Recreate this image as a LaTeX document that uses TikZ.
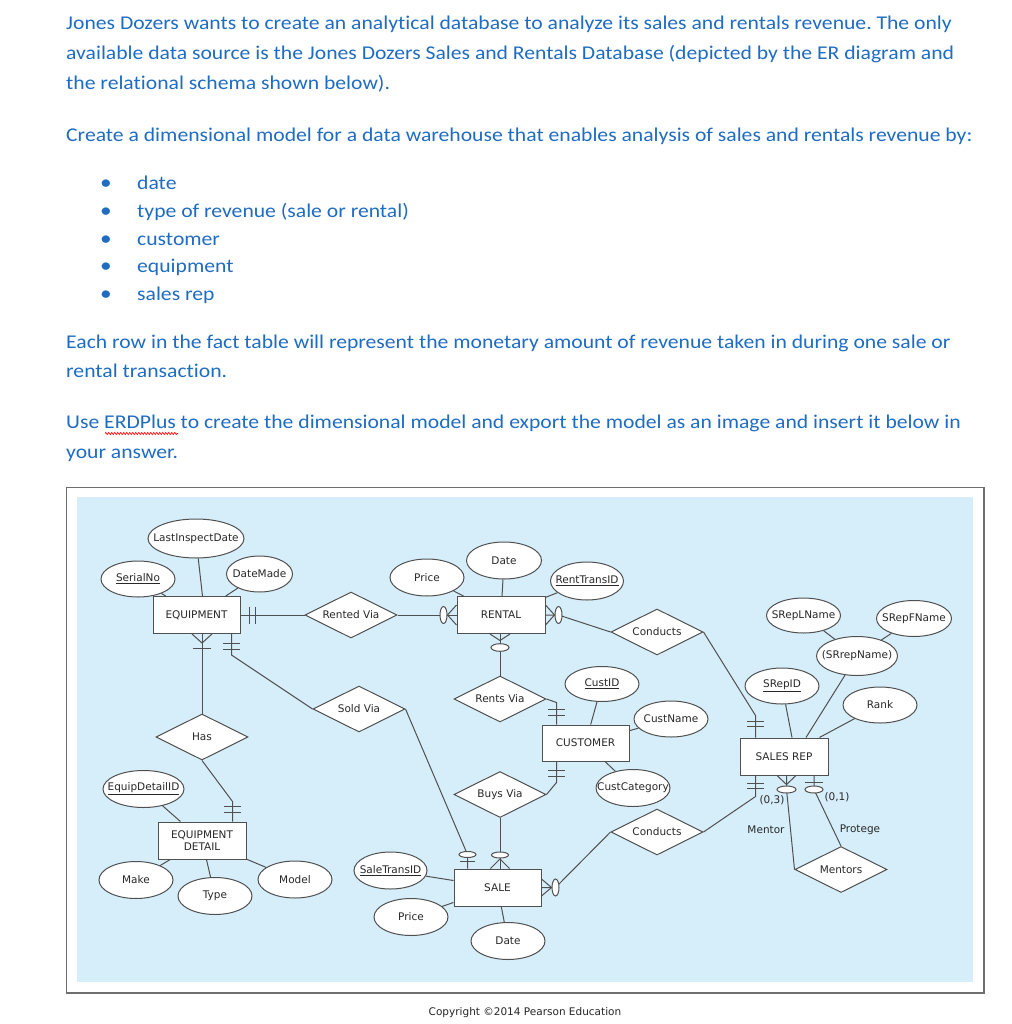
\documentclass[tikz,border=0pt]{standalone}
\usepackage{fontspec}
\setmainfont{Carlito}[FakeStretch=1.11,Ligatures=NoCommon]
\newfontfamily\erfont{DejaVu Sans}
\usetikzlibrary{shapes.geometric,calc,decorations.pathmorphing}
\definecolor{qblue}{RGB}{31,108,195}
\definecolor{erbg}{RGB}{214,238,250}
\definecolor{erline}{RGB}{80,80,80}
\definecolor{ertext}{RGB}{40,40,40}
\definecolor{framegray}{RGB}{110,110,110}
\newcommand{\zb}[1]{\makebox[0pt][c]{#1}}
\frenchspacing
\begin{document}
\begin{tikzpicture}[x=1pt,y=-1pt,
 qtext/.style={anchor=base west, inner sep=0pt, text=qblue, font=\fontsize{19.5}{23}\selectfont},
 qbul/.style={anchor=base, inner sep=0pt, text=qblue, font=\fontsize{21}{23}\selectfont},
 erf/.style={font=\erfont\fontsize{10.5}{12.5}\selectfont, text=ertext},
 ent/.style={erf, rectangle, draw=erline, fill=white, line width=1pt, minimum width=87pt, minimum height=37pt, inner sep=0pt, align=center},
 rel/.style={erf, diamond, aspect=2, draw=erline, fill=white, line width=1pt, minimum width=92pt, minimum height=46pt, inner sep=0pt},
 att/.style={erf, ellipse, draw=erline, fill=white, line width=1pt, minimum width=74pt, minimum height=37pt, inner sep=0pt},
 conn/.style={draw=erline, line width=1pt},
 oval/.style={draw=erline, fill=white, line width=1pt},
 lbl/.style={erf, inner sep=0pt}
]
\useasboundingbox (0,0) rectangle (1011,1024);
\fill[white] (0,0) rectangle (1011,1024);

% ---------- question text ----------
\node[qtext] (t1) at (66,29.5) {Jones Dozers wants to create an analytical database to analyze its sales and rentals revenue. The only};
\node[qtext] (t2) at (66,59.5) {available data source is the Jones Dozers Sales and Rentals Database (depicted by the ER diagram and};
\node[qtext] (t3) at (66,89.5) {the relational schema shown below).};
\node[qtext] (t4) at (66,141.5) {Create a dimensional model for a data warehouse that enables analysis of sales and rentals revenue by:};
\node[qbul] (b1) at (106,190) {\textbullet};
\node[qbul] (b2) at (106,217.5) {\textbullet};
\node[qbul] (b3) at (106,245.5) {\textbullet};
\node[qbul] (b4) at (106,272.5) {\textbullet};
\node[qbul] (b5) at (106,300) {\textbullet};
\node[qtext] (i1) at (137,190) {date};
\node[qtext] (i2) at (137,217.5) {type of revenue (sale or rental)};
\node[qtext] (i3) at (137,245.5) {customer};
\node[qtext] (i4) at (137,272.5) {equipment};
\node[qtext] (i5) at (137,300) {sales rep};
\node[qtext] (t5) at (66,348.5) {Each row in the fact table will represent the monetary amount of revenue taken in during one sale or};
\node[qtext] (t6) at (66,377.5) {rental transaction.};
\node[qtext] (t7) at (66,428.5) {Use ERDPlus to create the dimensional model and export the model as an image and insert it below in};
\node[qtext] (t8) at (66,458) {your answer.};
\coordinate (w1) at (105,433.5);
\coordinate (w2) at (178,433.5);
\draw[red, line width=0.6pt, decorate, decoration={zigzag, segment length=3pt, amplitude=1.1pt}] (w1) -- (w2);

% ---------- frame ----------
\draw[framegray, line width=1.2pt] (66.5,487.5) rectangle (984,993);
\fill[erbg] (77,497) rectangle (973,982);

% ---------- entities ----------
\node[ent] (equip) at (196.5,615) {EQUIPMENT};
\node[ent, minimum width=88pt] (rental) at (501,615) {RENTAL};
\node[ent, minimum height=36pt] (cust) at (585.5,743) {CUSTOMER};
\node[ent, minimum width=88pt] (srep) at (784,756.5) {SALES REP};
\node[ent, minimum width=88pt] (edet) at (202,840.5) {EQUIPMENT\\[-1pt]DETAIL};
\node[ent] (sale) at (497.5,887.5) {SALE};

% ---------- relationships ----------
\node[rel] (rented) at (351,615) {\zb{Rented Via}};
\node[rel] (sold) at (359,709) {\zb{Sold Via}};
\node[rel] (has) at (202,737) {\zb{Has}};
\node[rel] (rents) at (500,699) {\zb{Rents Via}};
\node[rel] (cond1) at (657,632) {\zb{Conducts}};
\node[rel] (buys) at (500,794.5) {\zb{Buys Via}};
\node[rel] (cond2) at (657,832) {\zb{Conducts}};
\node[rel] (mentors) at (841,869.5) {\zb{Mentors}};

% ---------- attributes ----------
\node[att, minimum width=96pt, minimum height=39pt] (lid) at (196,538.5) {\zb{LastInspectDate}};
\node[att, minimum height=36pt] (serial) at (138,579) {\zb{\underline{SerialNo}}};
\node[att, minimum width=66pt, minimum height=36pt] (datemade) at (259.5,574) {\zb{DateMade}};
\node[att] (price1) at (427,577.5) {\zb{Price}};
\node[att, minimum width=75pt] (date1) at (504,560.5) {\zb{Date}};
\node[att, minimum width=73pt, minimum height=38pt] (rtid) at (587,581) {\zb{\underline{RentTransID}}};
\node[att, minimum height=35pt] (custid) at (602,684) {\zb{\underline{CustID}}};
\node[att, minimum height=36pt] (custname) at (671,719) {\zb{CustName}};
\node[att] (custcat) at (633,788) {\zb{CustCategory}};
\node[att, minimum height=35pt] (slname) at (803.5,615.5) {\zb{SRepLName}};
\node[att, minimum width=75pt, minimum height=36pt] (sfname) at (914,618.5) {\zb{SRepFName}};
\node[att, minimum width=81pt, minimum height=39pt] (srname) at (857,656) {\zb{(SRrepName)}};
\node[att, minimum height=36pt] (srepid) at (782,686) {\zb{\underline{SRepID}}};
\node[att, minimum height=36pt] (rank) at (880,705) {\zb{Rank}};
\node[att, minimum width=81pt] (edid) at (143.5,789) {\zb{\underline{EquipDetailID}}};
\node[att] (make) at (136,880) {\zb{Make}};
\node[att] (typ) at (215,896) {\zb{Type}};
\node[att] (model) at (295,879.5) {\zb{Model}};
\node[att, minimum width=73pt] (stid) at (390.5,870.5) {\zb{\underline{SaleTransID}}};
\node[att] (price2) at (411,917) {\zb{Price}};
\node[att] (date2) at (508,941) {\zb{Date}};

% ---------- attribute links ----------
\draw[conn] (serial) -- (equip);
\draw[conn] (lid) -- ([xshift=6pt]equip.north);
\draw[conn] (datemade) -- (equip);
\draw[conn] (price1) -- (rental);
\draw[conn] (date1) -- (rental);
\draw[conn] (rtid) -- (rental);
\draw[conn] (custid) -- (cust);
\draw[conn] (custname) -- (cust);
\draw[conn] (custcat) -- (cust);
\draw[conn] (slname) -- (srname);
\draw[conn] (sfname) -- (srname);
\draw[conn] (srname) -- ([xshift=22pt]srep.north);
\draw[conn] (srepid) -- ([xshift=8pt]srep.north);
\draw[conn] (rank) -- (srep);
\draw[conn] (edid) -- (edet);
\draw[conn] (make) -- (edet);
\draw[conn] (typ) -- (edet);
\draw[conn] (model) -- (edet);
\draw[conn] (stid) -- (sale);
\draw[conn] (price2) -- (sale);
\draw[conn] (date2) -- (sale);

% ---------- relationship links ----------
% EQUIPMENT -- Rented Via (one and only one)
\draw[conn] (equip.east) -- (rented.west);
\draw[conn] ($(equip.east)+(9,-8.5)$) -- ++(0,17);
\draw[conn] ($(equip.east)+(15,-8.5)$) -- ++(0,17);
% Rented Via -- RENTAL (zero or many)
\draw[conn] (rented.east) -- (rental.west);
\draw[conn] ($(rental.west)+(0,-10)$) -- ($(rental.west)+(-9,0)$) -- ($(rental.west)+(0,10)$);
\draw[oval] ($(rental.west)+(-13,0)$) ellipse (3.5 and 8.5);
% RENTAL -- Conducts (zero or many)
\draw[conn] (rental.east) -- ++(13,0) coordinate (o2) -- (cond1.west);
\draw[conn] ($(rental.east)+(0,-10)$) -- ($(rental.east)+(9,0)$) -- ($(rental.east)+(0,10)$);
\draw[oval] (o2) ellipse (3.5 and 8.5);
% Conducts -- SALES REP (one and only one)
\draw[conn] (cond1.east) -- ($(srep.north west)+(16,-22)$) -- ($(srep.north west)+(16,0)$);
\draw[conn] ($(srep.north west)+(7.5,-16)$) -- ++(17,0);
\draw[conn] ($(srep.north west)+(7.5,-11)$) -- ++(17,0);
% RENTAL -- Rents Via (zero or many)
\coordinate (rs) at (rents.north |- rental.south);
\draw[conn] (rs) -- (rents.north);
\draw[conn] ($(rs)+(-10,0)$) -- ($(rs)+(0,6.5)$) -- ($(rs)+(10,0)$);
\draw[oval] ($(rs)+(0,13.5)$) ellipse (9 and 3.8);
% Rents Via -- CUSTOMER (one and only one)
\draw[conn] (rents.east) -- ($(cust.north west)+(15,-22)$) -- ($(cust.north west)+(15,0)$);
\draw[conn] ($(cust.north west)+(6.5,-15)$) -- ++(17,0);
\draw[conn] ($(cust.north west)+(6.5,-9)$) -- ++(17,0);
% CUSTOMER -- Buys Via (one and only one)
\draw[conn] ($(cust.south west)+(15,0)$) -- ++(0,21) -- (buys.east);
\draw[conn] ($(cust.south west)+(6.5,9)$) -- ++(17,0);
\draw[conn] ($(cust.south west)+(6.5,15)$) -- ++(17,0);
% Buys Via -- SALE (zero or many)
\coordinate (bs) at (buys.south |- sale.north);
\draw[conn] (buys.south) -- (bs);
\draw[conn] ($(bs)+(-9.5,0)$) -- ($(bs)+(0,-9.5)$) -- ($(bs)+(9.5,0)$);
\draw[oval] ($(bs)+(0,-13.5)$) ellipse (8.5 and 3);
% EQUIPMENT -- Sold Via (one and only one)
\draw[conn] ($(equip.south east)+(-9,0)$) -- ++(0,21) -- (sold.west);
\draw[conn] ($(equip.south east)+(-17.5,9)$) -- ++(17,0);
\draw[conn] ($(equip.south east)+(-17.5,15)$) -- ++(17,0);
% Sold Via -- SALE (zero or one)
\draw[conn] (sold.east) -- ($(sale.north west)+(14,-14)$) -- ($(sale.north west)+(14,0)$);
\draw[conn] ($(sale.north west)+(6.5,-7)$) -- ++(15,0);
\draw[oval] ($(sale.north west)+(14,-14)$) ellipse (8.5 and 3);
% EQUIPMENT -- Has (one or many)
\coordinate (cf) at (has.north |- equip.south);
\draw[conn] (cf) -- (has.north);
\draw[conn] ($(cf)+(-10,0)$) -- ($(cf)+(0,9)$) -- ($(cf)+(10,0)$);
\draw[conn] ($(cf)+(-9,14)$) -- ++(18,0);
% Has -- EQUIPMENT DETAIL (one and only one)
\draw[conn] (has.south) -- ($(edet.north west)+(75,-20)$) -- ($(edet.north west)+(75,0)$);
\draw[conn] ($(edet.north west)+(66.5,-15)$) -- ++(17,0);
\draw[conn] ($(edet.north west)+(66.5,-9)$) -- ++(17,0);
% SALE -- Conducts (zero or many)
\draw[conn] (sale.east) -- ++(14,0) coordinate (o3) -- (cond2.west);
\draw[conn] ($(sale.east)+(0,-8.5)$) -- ($(sale.east)+(10,0)$) -- ($(sale.east)+(0,8.5)$);
\draw[oval] (o3) ellipse (3.5 and 8.5);
% Conducts -- SALES REP (one and only one, (0,3))
\draw[conn] (cond2.east) -- ($(srep.south west)+(16,21)$) -- ($(srep.south west)+(16,0)$);
\draw[conn] ($(srep.south west)+(7.5,8)$) -- ++(17,0);
\draw[conn] ($(srep.south west)+(7.5,13)$) -- ++(17,0);
% SALES REP -- Mentors (Mentor: zero or many)
\coordinate (mm) at ($(srep.south west)+(47,0)$);
\draw[conn] (mm) -- ++(0,14) -- (mentors.west);
\draw[conn] ($(mm)+(-9.5,0)$) -- ($(mm)+(0,9)$) -- ($(mm)+(9.5,0)$);
\draw[oval] ($(mm)+(0,14)$) ellipse (9.5 and 3.5);
% SALES REP -- Mentors (Protege: zero or one)
\coordinate (mp) at ($(srep.south west)+(74.5,0)$);
\draw[conn] (mp) -- ++(0,14) -- (mentors.north);
\draw[conn] ($(mp)+(-9,7)$) -- ++(18,0);
\draw[oval] ($(mp)+(0,14)$) ellipse (9 and 3.5);

% ---------- labels ----------
\node[lbl] (l03) at (772,800) {(0,3)};
\node[lbl] (l01) at (837,797) {(0,1)};
\node[lbl] (lmentor) at (766,829.5) {Mentor};
\node[lbl] (lprotege) at (860,829.5) {Protege};

\node[font=\erfont\fontsize{10.5}{12}\selectfont, text=black!85, inner sep=0pt] (copy) at (525,1013) {Copyright \textcopyright2014 Pearson Education};
\end{tikzpicture}
\end{document}
